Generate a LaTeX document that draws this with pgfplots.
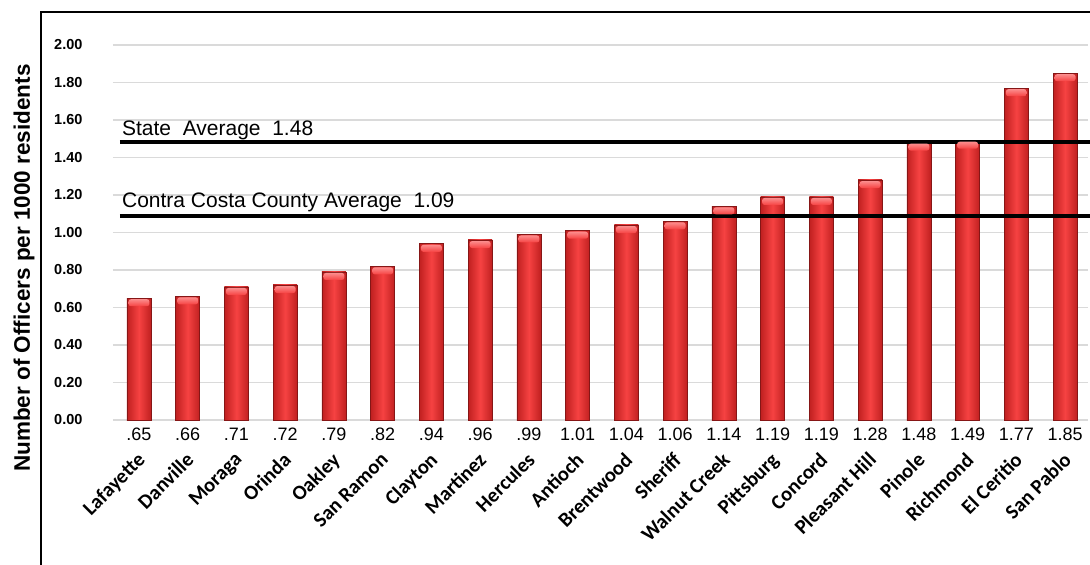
\documentclass[border=0pt]{standalone}
\usepackage{fontspec}
\setmainfont{Liberation Sans}
\newfontfamily\catfont{Carlito}
\usepackage{pgfplots}
\usepackage{pgfplotstable}
\pgfplotsset{compat=1.18}

\definecolor{barmid}{RGB}{246,66,66}
\definecolor{baredge}{RGB}{192,32,32}
\definecolor{barcap}{RGB}{252,140,140}
\definecolor{gridgray}{RGB}{218,218,218}

% Officers per 1000 residents, by city
\pgfplotstableread{
idx city val
0 Lafayette 0.65
1 Danville 0.66
2 Moraga 0.71
3 Orinda 0.72
4 Oakley 0.79
5 {San Ramon} 0.82
6 Clayton 0.94
7 Martinez 0.96
8 Hercules 0.99
9 Antioch 1.01
10 Brentwood 1.04
11 Sheriff 1.06
12 {Walnut Creek} 1.14
13 Pittsburg 1.19
14 Concord 1.19
15 {Pleasant Hill} 1.28
16 Pinole 1.48
17 Richmond 1.49
18 {El Ceritio} 1.77
19 {San Pablo} 1.85
}\datatable

\begin{document}
\begin{tikzpicture}[x=1pt,y=1pt]
\path[use as bounding box] (0,0) rectangle (1090,565);
\draw[line width=2pt] (41,-5) -- (41,553) -- (1095,553);
\begin{axis}[
  at={(113pt,145pt)}, anchor=south west,
  scale only axis, width=975pt, height=375pt,
  xmin=-0.533, xmax=19.47, ymin=0, ymax=2,
  clip=false,
  axis line style={draw=none},
  major tick style={draw=none},
  ytick={0,0.2,0.4,0.6,0.8,1.0,1.2,1.4,1.6,1.8,2.0},
  ymajorgrids, grid style={gridgray, line width=1.3pt},
  yticklabel style={font=\bfseries\fontsize{14.5}{15}\selectfont, xshift=-27pt,
    /pgf/number format/.cd, fixed, fixed zerofill, precision=2, assume math mode=true},
  xtick={0,...,19},
  xticklabels from table={\datatable}{city},
  xticklabel shift=31pt,
  xticklabel style={xshift=-3pt, rotate=45, anchor=north east, inner sep=0pt,
    font=\catfont\bfseries\fontsize{20.5}{20.5}\selectfont},
  ylabel={Number of Officers per 1000 residents},
  ylabel style={at={(axis description cs:-0.0913,0.405)}, anchor=center,
    font=\bfseries\fontsize{22.5}{22.5}\selectfont},
]
% one bar per plot, so that each bar carries its own shading
\pgfplotsinvokeforeach{0,...,19}{
  \addplot[ybar, bar width=24pt, bar shift=0pt, draw=baredge!70!black, line width=0.6pt,
    left color=baredge, right color=baredge, middle color=barmid,
    nodes near coords={},
    every node near coord/.style={anchor=north, yshift=-0.8pt, inner sep=0pt,
      minimum width=21pt, minimum height=7pt, rounded corners=2.5pt,
      top color=barcap, bottom color=barmid, draw=none}]
    table[x=idx, y=val, restrict x to domain=#1:#1] {\datatable};
}
% value labels set under each bar, on a common baseline
\addplot[ybar, bar width=0pt, bar shift=0pt, draw=none, fill=none,
  point meta=explicit,
  nodes near coords,
  every node near coord/.style={anchor=base, yshift=-20pt, inner sep=0pt,
    font=\fontsize{18}{18}\selectfont,
    /pgf/number format/.cd, fixed, fixed zerofill, precision=2, skip 0.=true, assume math mode=true}]
  table[x=idx, y expr=0, meta=val] {\datatable};
% reference averages
\draw[line width=4pt] (axis cs:-0.39,1.48) -- (axis cs:20,1.48);
\draw[line width=4pt] (axis cs:-0.39,1.09) -- (axis cs:20,1.09);
\node[anchor=base west, inner sep=0pt, font=\fontsize{21}{21}\selectfont]
  at (axis cs:-0.35,1.48) [yshift=7pt] {State\ \ Average\ \ 1.48};
\node[anchor=base west, inner sep=0pt, font=\fontsize{21}{21}\selectfont]
  at (axis cs:-0.35,1.09) [yshift=8pt] {Contra Costa County Average\ \ 1.09};
\end{axis}
\end{tikzpicture}
\end{document}
